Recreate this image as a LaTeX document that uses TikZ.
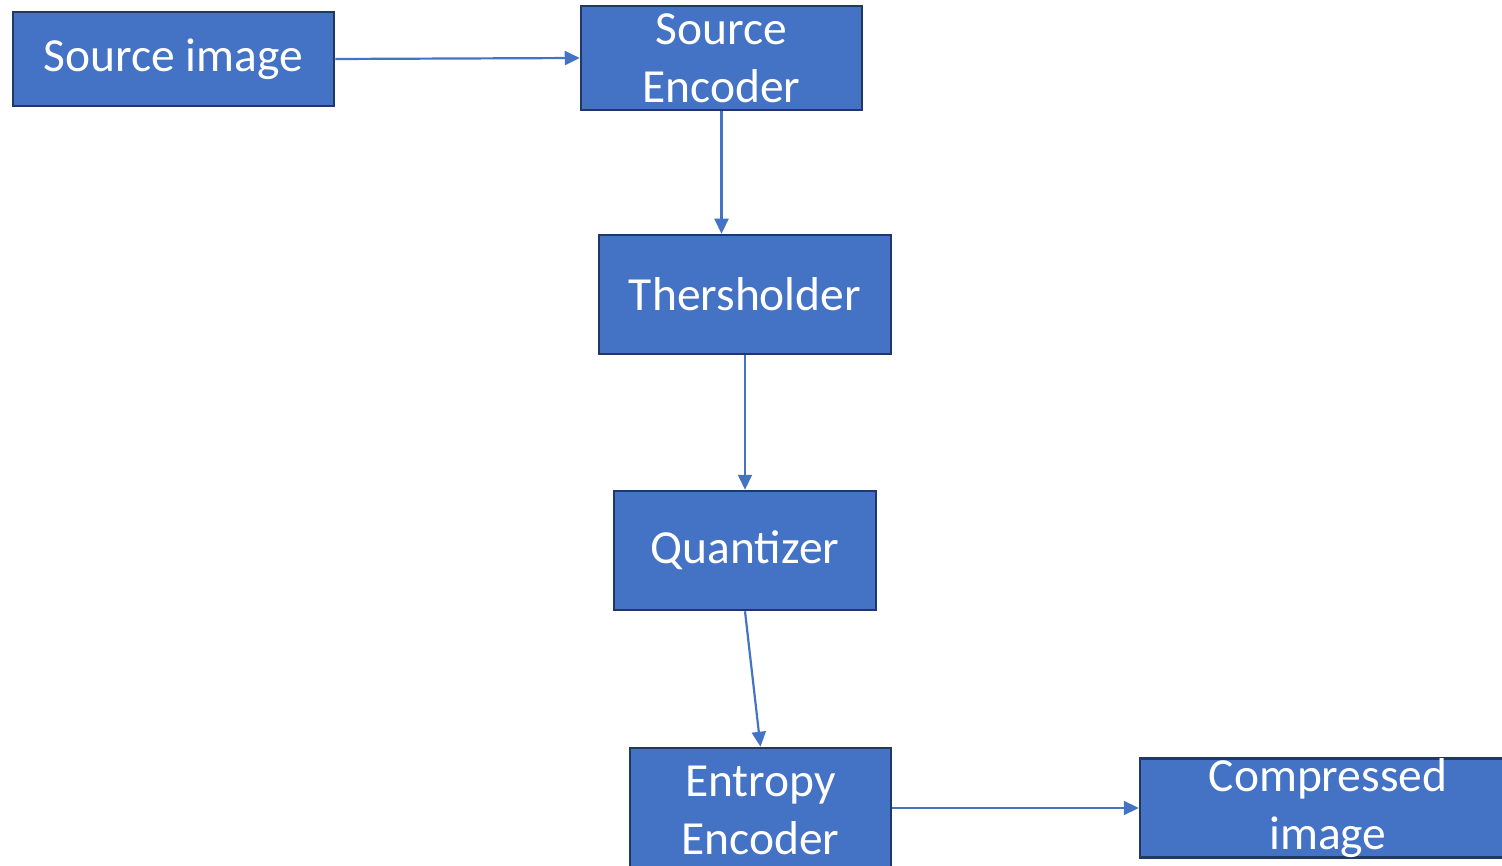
\documentclass[tikz,border=0pt]{standalone}
\usepackage{fontspec}
\setmainfont{Carlito}
\usetikzlibrary{arrows.meta}
\definecolor{boxfill}{HTML}{4472C4}
\definecolor{boxline}{HTML}{203864}
\definecolor{arrowc}{HTML}{4472C4}
\newcommand{\lowtxt}[1]{\raisebox{-4pt}{#1}}
\begin{document}
\begin{tikzpicture}[x=1pt,y=-1pt,
  blk/.style={draw=boxline,fill=boxfill,line width=2.5pt,inner sep=0pt,
    text=white,align=center,font=\fontsize{47.5}{58}\selectfont},
  conn/.style={draw=arrowc,line width=2.2pt,-{Triangle[length=15pt,width=14pt]}}]
\useasboundingbox (0,0) rectangle (1502,866);
\node[blk,minimum width=321pt,minimum height=94pt] (src) at (173.5,59) {\lowtxt{Source image}};
\node[blk,minimum width=281pt,minimum height=104pt] (enc) at (721.5,58) {Source\\Encoder};
\node[blk,minimum width=292pt,minimum height=119pt] (thr) at (745,294.5) {\lowtxt{Thersholder}};
\node[blk,minimum width=262pt,minimum height=119pt] (qua) at (745,550.5) {\lowtxt{Quantizer}};
\node[blk,minimum width=261pt,minimum height=124pt] (ent) at (760.5,810) {Entropy\\Encoder};
\node[blk,minimum width=376pt,minimum height=94pt] (cmp) at (1328,808) {Compressed\\image};
\draw[conn] (src.east) -- (enc.west);
\draw[conn] (enc.south) -- (enc.south |- thr.north);
\draw[conn] (thr.south) -- (qua.north);
\draw[conn] (qua.south) -- (ent.north);
\draw[conn] (ent.east |- cmp.west) -- (cmp.west);
\end{tikzpicture}
\end{document}
